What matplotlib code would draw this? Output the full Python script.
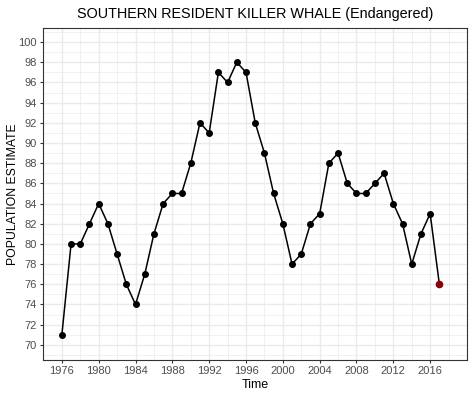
import matplotlib
matplotlib.use("Agg")
import matplotlib.pyplot as plt
import numpy as np

years = list(range(1976, 2018))
population = [71, 80, 80, 82, 84, 82, 79, 76, 74, 77,
              81, 84, 85, 85, 88, 92, 91, 97, 96, 98,
              97, 92, 89, 85, 82, 78, 79, 82, 83, 88,
              89, 86, 85, 85, 86, 87, 84, 82, 78, 81,
              83, 76]
x_ticks = list(range(1976, 2017, 4))
y_ticks = list(range(70, 101, 2))

plt.rcParams['font.family'] = ['Liberation Sans', 'DejaVu Sans']

fig = plt.figure(figsize=(4.74, 3.94), dpi=100)
ax = fig.add_axes([0.0907, 0.0863, 0.8945, 0.8427])

# grid: major at ticks, minor halfway
ax.set_xticks(x_ticks)
ax.set_yticks(y_ticks)
ax.set_xticks(np.arange(1974, 2020, 2), minor=True)
ax.set_yticks(np.arange(69, 102, 1), minor=True)
ax.grid(which='major', color='#ebebeb', linewidth=1.0)
ax.grid(which='minor', color='#ebebeb', linewidth=0.5)
ax.set_axisbelow(True)

ax.plot(years, population, '-', color='black', linewidth=1.1)
ax.plot(years[:-1], population[:-1], 'o', color='black', markersize=4)
ax.plot(years[-1:], population[-1:], 'o', color='#8b0000', markersize=4.5)

ax.set_xlim(1973.95, 2020.0)
ax.set_ylim(68.5, 101.4)

for s in ax.spines.values():
    s.set_color('#333333')
    s.set_linewidth(0.8)

ax.tick_params(which='minor', length=0)
ax.tick_params(which='major', length=2.5, color='#333333', labelsize=8,
               labelcolor='#4d4d4d', pad=2)

ax.set_xlabel('Time', fontsize=9, labelpad=2)
ax.set_ylabel('POPULATION ESTIMATE', fontsize=8.8)
ax.yaxis.set_label_coords(-0.056, 0.5)
ax.set_title('SOUTHERN RESIDENT KILLER WHALE (Endangered)', fontsize=10.4, pad=7)

fig.savefig('out.png', dpi=100)
